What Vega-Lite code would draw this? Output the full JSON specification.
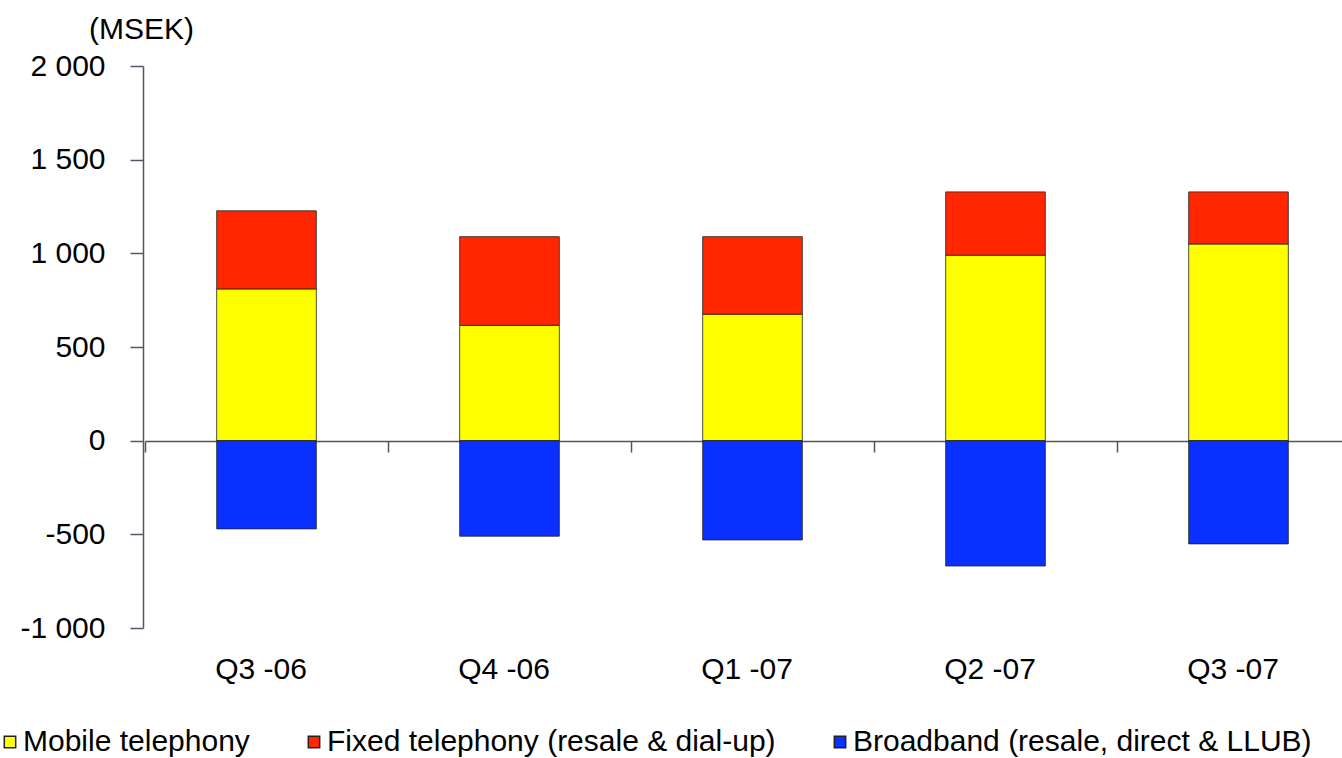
{
  "$schema": "https://vega.github.io/schema/vega-lite/v6.json",
  "autosize": "none",
  "width": 1199,
  "height": 562,
  "padding": {"left": 143, "top": 66, "right": 0, "bottom": 130},
  "background": "white",
  "config": {
    "font": "Liberation Sans",
    "view": {"stroke": null}
  },
  "data": {
    "values": [
      {"quarter": "Q3 -06", "segment": "Mobile telephony", "rank": 1, "value": 810},
      {"quarter": "Q3 -06", "segment": "Fixed telephony (resale & dial-up)", "rank": 2, "value": 417},
      {"quarter": "Q3 -06", "segment": "Broadband (resale, direct & LLUB)", "rank": 3, "value": -471},
      {"quarter": "Q4 -06", "segment": "Mobile telephony", "rank": 1, "value": 616},
      {"quarter": "Q4 -06", "segment": "Fixed telephony (resale & dial-up)", "rank": 2, "value": 473},
      {"quarter": "Q4 -06", "segment": "Broadband (resale, direct & LLUB)", "rank": 3, "value": -510},
      {"quarter": "Q1 -07", "segment": "Mobile telephony", "rank": 1, "value": 675},
      {"quarter": "Q1 -07", "segment": "Fixed telephony (resale & dial-up)", "rank": 2, "value": 414},
      {"quarter": "Q1 -07", "segment": "Broadband (resale, direct & LLUB)", "rank": 3, "value": -530},
      {"quarter": "Q2 -07", "segment": "Mobile telephony", "rank": 1, "value": 990},
      {"quarter": "Q2 -07", "segment": "Fixed telephony (resale & dial-up)", "rank": 2, "value": 338},
      {"quarter": "Q2 -07", "segment": "Broadband (resale, direct & LLUB)", "rank": 3, "value": -669},
      {"quarter": "Q3 -07", "segment": "Mobile telephony", "rank": 1, "value": 1050},
      {"quarter": "Q3 -07", "segment": "Fixed telephony (resale & dial-up)", "rank": 2, "value": 278},
      {"quarter": "Q3 -07", "segment": "Broadband (resale, direct & LLUB)", "rank": 3, "value": -551}
    ]
  },
  "mark": {"type": "bar", "width": {"band": 0.41}, "stroke": "#222222", "strokeWidth": 1, "strokeOpacity": 0.8},
  "encoding": {
    "x": {
      "field": "quarter",
      "type": "nominal",
      "sort": null,
      "scale": {"range": [2, 1217], "paddingInner": 0, "paddingOuter": 0},
      "axis": {
        "title": null,
        "orient": "bottom",
        "offset": -187,
        "tickBand": "extent",
        "domainColor": "#555555",
        "domainWidth": 1.5,
        "tickColor": "#555555",
        "tickWidth": 1.5,
        "tickSize": 11,
        "labelAngle": 0,
        "labelOffset": -6,
        "labelFont": "Liberation Sans",
        "labelFontSize": 30,
        "labelColor": "#000000",
        "labelPadding": 202
      }
    },
    "y": {
      "field": "value",
      "type": "quantitative",
      "stack": "zero",
      "scale": {"domain": [-1000, 2000], "nice": false, "zero": true},
      "axis": {
        "title": "(MSEK)",
        "titleAngle": 0,
        "titleAlign": "center",
        "titleBaseline": "alphabetic",
        "titleX": -2,
        "titleY": -28,
        "titleFont": "Liberation Sans",
        "titleFontSize": 30,
        "titleFontWeight": "normal",
        "titleColor": "#000000",
        "values": [-1000, -500, 0, 500, 1000, 1500, 2000],
        "labelExpr": "(datum.value < 0 ? '-' : '') + replace(format(abs(datum.value), ','), ',', ' ')",
        "labelFont": "Liberation Sans",
        "labelFontSize": 30,
        "labelColor": "#000000",
        "labelPadding": 25,
        "tickSize": 13,
        "tickColor": "#555566",
        "tickWidth": 1.5,
        "domainColor": "#555566",
        "domainWidth": 1.5,
        "grid": false
      }
    },
    "color": {
      "field": "segment",
      "type": "nominal",
      "scale": {
        "domain": ["Mobile telephony", "Fixed telephony (resale & dial-up)", "Broadband (resale, direct & LLUB)"],
        "range": ["#FFFF00", "#FF2600", "#0A30FF"]
      },
      "legend": {
        "title": null,
        "orient": "none",
        "direction": "horizontal",
        "legendX": -148,
        "legendY": 661,
        "symbolType": "square",
        "symbolSize": 130,
        "symbolStrokeColor": "#222222",
        "symbolStrokeWidth": 1.5,
        "symbolOpacity": 1,
        "labelFont": "Liberation Sans",
        "labelFontSize": 30,
        "labelColor": "#000000",
        "labelOffset": -2,
        "labelLimit": 0,
        "columnPadding": 49,
        "padding": 0
      }
    },
    "order": {"field": "rank", "type": "quantitative"}
  }
}
